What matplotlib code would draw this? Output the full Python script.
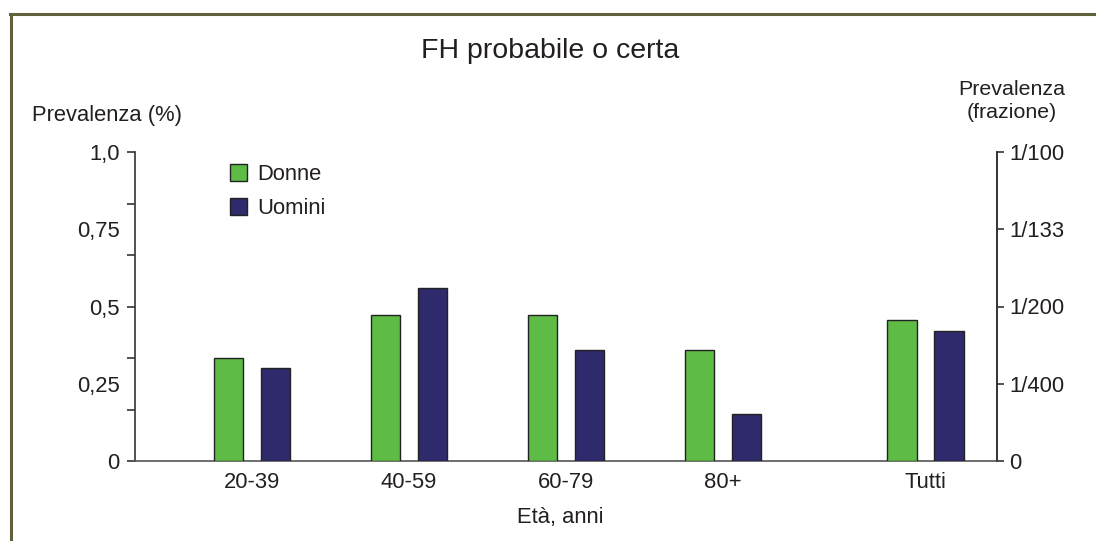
import numpy as np
import matplotlib
matplotlib.use("Agg")
import matplotlib.pyplot as plt
from matplotlib.lines import Line2D

plt.rcParams['font.family'] = ['Liberation Sans', 'DejaVu Sans']

# data
categories = ["20-39", "40-59", "60-79", "80+", "Tutti"]
group_pos = [0, 1, 2, 3, 4.29]
donne = [0.333, 0.472, 0.472, 0.359, 0.456]
uomini = [0.301, 0.560, 0.359, 0.152, 0.420]

left_ticks = [0, 0.25, 0.5, 0.75, 1.0]
left_labels = ["0", "0,25", "0,5", "0,75", "1,0"]
right_labels = ["0", "1/400", "1/200", "1/133", "1/100"]

green = "#5DBB46"
navy = "#2F2A6B"
txt = "#231F20"
fs = 15.8

fig = plt.figure(figsize=(10.96, 5.41), dpi=100)
ax = fig.add_axes([135/1096, 80/541, 862/1096, 309/541])

x = np.array(group_pos)
w = 0.19
ax.bar(x - 0.15, donne, w, color=green, edgecolor="#222222", linewidth=1.0, label="Donne", zorder=3)
ax.bar(x + 0.15, uomini, w, color=navy, edgecolor="#222222", linewidth=1.0, label="Uomini", zorder=3)

ax.set_xlim(-0.745, 4.745)
ax.set_ylim(0, 1.0)

ax.spines["top"].set_visible(False)
ax.spines["left"].set_color("#333333")
ax.spines["right"].set_color("#333333")
ax.spines["bottom"].set_color("#555555")
for s in ["left", "right", "bottom"]:
    ax.spines[s].set_linewidth(1.2)

ax.set_xticks(x)
ax.set_xticklabels(categories, fontsize=fs, color=txt)
ax.tick_params(axis="x", length=0, pad=8)

# left axis: unlabeled ticks every 1/6, labels every 0.25
ax.yaxis.remove_overlapping_locs = False
ax.set_yticks(np.arange(0, 1.0001, 1/6))
ax.set_yticklabels([])
ax.tick_params(axis="y", which="major", length=6, width=1.2, color="#333333", direction="out")
ax.set_yticks(left_ticks, minor=True)
ax.set_yticklabels(left_labels, minor=True, fontsize=fs, color=txt)
ax.tick_params(axis="y", which="minor", length=0, pad=11)

ax2 = ax.twinx()
ax2.set_ylim(0, 1.0)
ax2.set_yticks(left_ticks)
ax2.set_yticklabels(right_labels, fontsize=fs, color=txt)
ax2.tick_params(axis="y", length=5, width=1.2, color="#333333", pad=4)
for s in ["top", "left", "bottom"]:
    ax2.spines[s].set_visible(False)
ax2.spines["right"].set_color("#333333")
ax2.spines["right"].set_linewidth(1.2)

leg = ax.legend(loc="upper left", bbox_to_anchor=(0.110, 0.962), frameon=False,
                fontsize=fs, handlelength=0.8, handleheight=0.8,
                handletextpad=0.45, labelspacing=0.6, borderpad=0, borderaxespad=0)
for t in leg.get_texts():
    t.set_color(txt)

fig.text(550/1096, 1 - 51/541, "FH probabile o certa", ha="center", va="center",
         fontsize=20.5, color=txt)
fig.text(32/1096, 1 - 116/541, "Prevalenza (%)", ha="left", va="center",
         fontsize=fs, color=txt)
fig.text(1012/1096, 1 - 101/541, "Prevalenza\n(frazione)", ha="center", va="center",
         fontsize=15.4, color=txt, linespacing=1.25)
fig.text(560/1096, 1 - 517/541, "Età, anni", ha="center", va="center",
         fontsize=fs, color=txt)

# olive frame: top and left edges
border = "#60603A"
fig.add_artist(Line2D([10/1096, 1.0], [1 - 14/541, 1 - 14/541], color=border, lw=2.2,
                      transform=fig.transFigure))
fig.add_artist(Line2D([10.5/1096, 10.5/1096], [1 - 14/541, 0], color=border, lw=2.2,
                      transform=fig.transFigure))

fig.savefig("out.png", dpi=100)
